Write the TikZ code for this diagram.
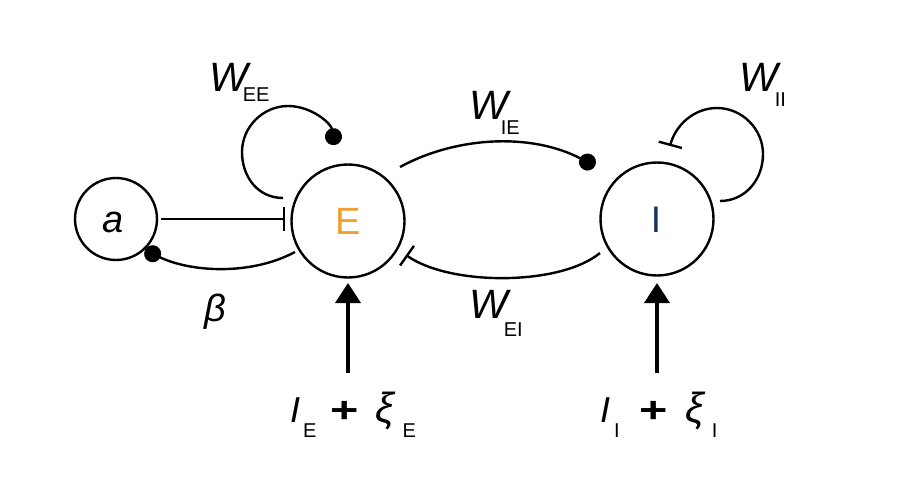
\documentclass[tikz,border=0pt]{standalone}
\usepackage{fontspec}
\setmainfont{Liberation Sans}
\usetikzlibrary{arrows.meta}
\definecolor{eorange}{RGB}{240,160,48}
\definecolor{inavy}{RGB}{26,46,96}
\newcommand{\fs}[1]{\fontsize{#1}{#1}\selectfont}
\newcommand{\Wlab}[3]{{\fs{41}\itshape W}\kern#2\raisebox{-#3}{\fs{20}#1}}
\newcommand{\plusb}{\scalebox{1.35}[1]{\fs{36}\bfseries +}}
\begin{document}
\begin{tikzpicture}[x=1pt,y=-1pt,
  unit/.style={circle,draw,line width=2.4pt,inner sep=0pt},
  conn/.style={line width=2.4pt},
  dotend/.style={conn,-{Circle[length=17pt,width=17pt]}},
  teeend/.style={conn,-{Bar[width=24pt,line width=2.4pt]}},
  inarrow/.style={line width=3.8pt,-{Triangle[width=25pt,length=20pt]}},
  lab/.style={inner sep=0pt,anchor=base west}]
\useasboundingbox (0,0) rectangle (900,481);
% units
\node[unit,minimum size=82pt] (a) at (116,219) {};
\node[anchor=base,inner sep=0pt] (atext) at (113,233) {\fs{38}\itshape a};
\node[unit,minimum size=113pt] (E) at (348,221) {};
\node[inner sep=0pt,text=eorange] (Etext) at (348,221) {\fs{38}E};
\node[unit,minimum size=113pt] (I) at (657,219) {};
\node[inner sep=0pt,text=inavy] (Itext) at (656,220) {\fs{37}I};
% a --| E
\draw[teeend] ([shift={(45,0)}]a.center) -- ([shift={(-63,-2)}]E.center);
% beta: E -> a
\draw[dotend] ([shift={(-53,31)}]E.center) .. controls (250,276) and (190,272) .. ([shift={(29,31)}]a.center);
% W_EE self loop
\draw[dotend] ([shift={(-65,-23)}]E.center) .. controls (258,198) and (242,177) .. (242,152)
  .. controls (242,127) and (263,106) .. (288,106)
  .. controls (311,106) and (331,123) .. ([shift={(-13,-76)}]E.center);
% W_IE: E -> I
\draw[dotend] ([shift={(52,-54)}]E.center) .. controls (455,137) and (530,132) .. ([shift={(-62,-53)}]I.center);
% W_EI: I --| E
\draw[teeend] ([shift={(-57,34)}]I.center) .. controls (560,286) and (450,286) .. ([shift={(58,34)}]E.center);
% W_II self loop
\draw[teeend] ([shift={(63,-18)}]I.center) .. controls (745,201) and (763,180) .. (763,154)
  .. controls (763,129) and (742,108) .. (717,108)
  .. controls (695,108) and (676,124) .. ([shift={(13,-73)}]I.center);
% inputs
\node[lab] (inE) at (290,422) {{\fs{36}\itshape I}\kern3pt\raisebox{-15pt}{\fs{20}E}\kern14pt\plusb\kern17pt{\fs{42}\itshape ξ}\kern8pt\raisebox{-15pt}{\fs{20}E}};
\node[lab] (inI) at (600,422) {{\fs{36}\itshape I}\kern4pt\raisebox{-15pt}{\fs{20}I}\kern20pt\plusb\kern17pt{\fs{42}\itshape ξ}\kern8pt\raisebox{-15pt}{\fs{20}I}};
\draw[inarrow] ([shift={(0,152)}]E.center) -- ([shift={(0,62)}]E.center);
\draw[inarrow] ([shift={(0,154)}]I.center) -- ([shift={(0,64)}]I.center);
% weight labels
\node[lab] (wee) at (209,92) {\Wlab{EE}{-5pt}{10pt}};
\node[lab] (wie) at (469,120) {\Wlab{IE}{-7pt}{15pt}};
\node[lab] (wei) at (469,318) {\Wlab{EI}{-4pt}{18pt}};
\node[lab] (wii) at (739,92) {\Wlab{II}{-3pt}{15pt}};
\node[inner sep=0pt] (beta) at (215,312) {\fs{38}\itshape β};
\end{tikzpicture}
\end{document}
